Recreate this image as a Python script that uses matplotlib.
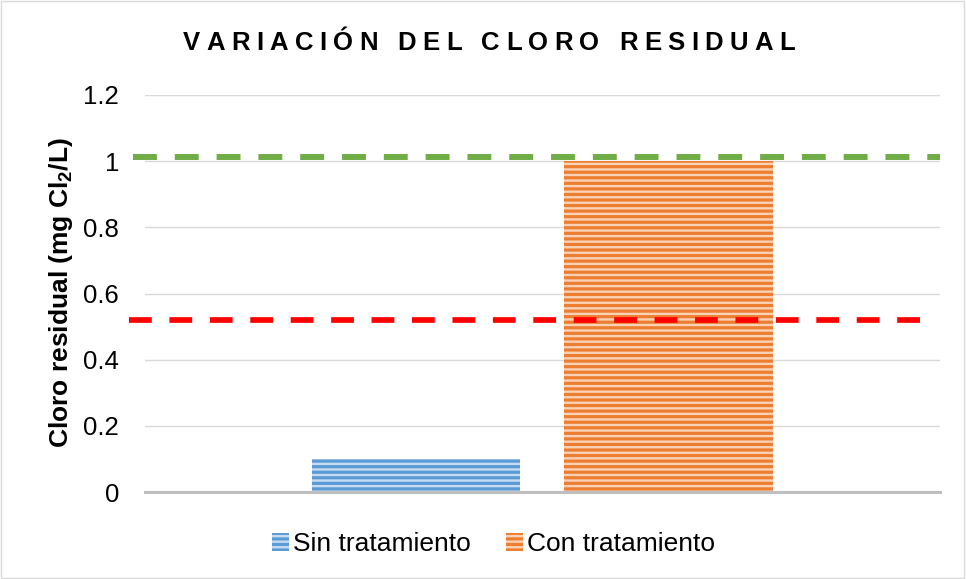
import matplotlib.pyplot as plt
from matplotlib.patches import Patch

plt.rcParams['font.family'] = ['Liberation Sans', 'DejaVu Sans']
plt.rcParams['hatch.linewidth'] = 1.7
plt.rcParams['mathtext.fontset'] = 'custom'
plt.rcParams['mathtext.rm'] = 'Liberation Sans:bold'

# data
series = ["Sin tratamiento", "Con tratamiento"]
values = [0.1, 1.0]
limite_max = 1.013   # green dashed line
limite_min = 0.52    # red dashed line
yticks = [0, 0.2, 0.4, 0.6, 0.8, 1.0, 1.2]
ytick_labels = ["0", "0.2", "0.4", "0.6", "0.8", "1", "1.2"]
titulo = "VARIACIÓN DEL CLORO RESIDUAL"

face = ["#5B9BD5", "#ED7D31"]
stripe = ["#C5DCF2", "#FAD2B6"]

fig = plt.figure(figsize=(9.66, 5.79), dpi=100)
ax = fig.add_axes([0.150, 0.150, 0.823, 0.686])

for i, (s, v) in enumerate(zip(series, values)):
    ax.bar(i, v, width=0.825, color=face[i], edgecolor=stripe[i], hatch="---",
           linewidth=0, zorder=2)

# reference lines (drawn a little past the plot area like the original)
ytr = ax.get_yaxis_transform()
ax.plot([-0.015, 1.0], [limite_max] * 2, transform=ytr, color="#70AD47",
        lw=4.3, ls=(0, (4.0, 3.0)), solid_capstyle="butt", clip_on=False, zorder=3)
ax.plot([-0.020, 0.991], [limite_min] * 2, transform=ytr, color="#FF0000",
        lw=4.1, ls=(0, (4.0, 3.1)), solid_capstyle="butt", clip_on=False, zorder=3)

ax.set_xlim(-1.075, 2.075)
ax.set_ylim(0, 1.2)
ax.set_yticks(yticks)
ax.set_yticklabels(ytick_labels, fontsize=18.5)
ax.set_xticks([])
ax.tick_params(axis="y", length=0, pad=18.5)
ax.grid(axis="y", color="#D9D9D9", lw=1.0, zorder=0)
for sp in ["top", "right", "left"]:
    ax.spines[sp].set_visible(False)
ax.spines["bottom"].set_color("#BFBFBF")
ax.spines["bottom"].set_linewidth(2.2)
ax.spines["bottom"].set_zorder(4)

fig.text(0.063, 0.494, "Cloro residual (mg Cl$_{2}$/L)", rotation=90,
         ha="center", va="center", fontsize=19, fontweight="bold")

# spaced title, letter by letter
fig.canvas.draw()
renderer = fig.canvas.get_renderer()
tsize = 18.5
span = 612
widths = []
for ch in titulo:
    t = fig.text(0, 0, ch if ch != " " else "a a", fontsize=tsize, fontweight="bold")
    w = t.get_window_extent(renderer).width
    if ch == " ":
        t2 = fig.text(0, 0, "aa", fontsize=tsize, fontweight="bold")
        w = w - t2.get_window_extent(renderer).width
        t2.remove()
    widths.append(w)
    t.remove()
spacing = (span - sum(widths)) / (len(titulo) - 1)
x = 489 - span / 2
W, H = fig.get_size_inches() * fig.dpi
for ch, w in zip(titulo, widths):
    if ch != " ":
        fig.text(x / W, 1 - 50 / H, ch, fontsize=tsize, fontweight="bold",
                 ha="left", va="baseline")
    x += w + spacing

handles = [Patch(facecolor=face[i], edgecolor=stripe[i], hatch="---", lw=0)
           for i in range(2)]
fig.legend(handles, series, loc="center", bbox_to_anchor=(0.511, 0.060), ncol=2,
           frameon=False, fontsize=19, handlelength=0.65, handleheight=0.65,
           handletextpad=0.15, columnspacing=1.35)

# figure border
fig.patches.append(plt.Rectangle((0.001, 0.001), 0.997, 0.997,
                                 transform=fig.transFigure, fill=False,
                                 edgecolor="#D9D9D9", lw=1.0))

fig.savefig("out.png", dpi=100)
